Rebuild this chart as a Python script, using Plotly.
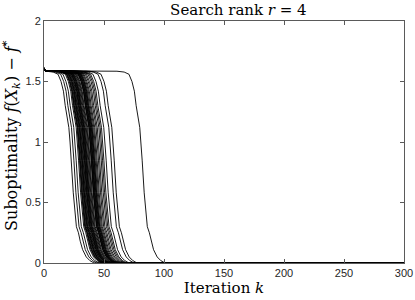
import plotly.graph_objects as go

# Shape of one descent (offsets in iterations
# relative to the iteration where the curve crosses f - f* = 1)
TEMPLATE_DK = [-20, -14, -10, -7.5, -5.5, -4, -1, 0, 1, 2.7, 5.3, 7, 8.5, 10.5, 13.5, 16.5, 20]
TEMPLATE_F = [1.585, 1.578, 1.56, 1.5, 1.42, 1.3, 1.12, 1.0, 0.85, 0.58, 0.30, 0.25, 0.18, 0.11, 0.05, 0.02, 0.0]

# Iteration at which each run crosses f - f* = 1
CROSSINGS = [21.7, 23.9, 25.8, 27.8, 28.6, 29.0, 29.3, 29.9, 30.4, 30.8, 31.0, 31.6,
             32.1, 32.7, 33.0, 33.3, 33.8, 34.2, 34.5, 34.9, 35.5, 36.2, 36.8, 37.4,
             38.3, 38.6, 38.8, 39.3, 39.6, 39.9, 40.4, 40.8, 41.1, 41.7, 42.5, 43.3,
             44.4, 45.4, 46.7, 47.8, 48.9, 50.8, 55.0, 57.5, 80.8]

START_F = [1.612, 1.588]
START_K = [0, 1]
K_MAX = 300

xs, ys = [], []
for c in CROSSINGS:
    xs += START_K + [c + d for d in TEMPLATE_DK] + [K_MAX, None]
    ys += START_F + TEMPLATE_F + [0.0, None]

fig = go.Figure()
fig.add_trace(go.Scatter(x=xs, y=ys, mode="lines",
                         line=dict(color="black", width=0.9),
                         connectgaps=False, hoverinfo="skip", showlegend=False))

serif = "DejaVu Serif, Liberation Serif, serif"
sans = "Liberation Sans, Arial, sans-serif"
axcol = "#5a5a5a"

fig.update_layout(
    width=415, height=300,
    margin=dict(l=44, r=11, t=21, b=37),
    paper_bgcolor="white", plot_bgcolor="white",
    title=dict(text="Search rank <i>r</i> = 4", x=0.54, xanchor="center",
               xref="paper", y=0.967, yanchor="middle", automargin=False,
               font=dict(family=serif, size=15, color="black")),
    xaxis=dict(range=[0, 300], tickvals=[0, 50, 100, 150, 200, 250, 300],
               ticks="inside", ticklen=4, tickcolor=axcol, showline=True,
               linecolor=axcol, linewidth=1, mirror="ticks", showgrid=False,
               zeroline=False, automargin=False,
               tickfont=dict(family=sans, size=11, color="#262626"),
               title=dict(text="Iteration <i>k</i>", standoff=2,
                          font=dict(family=serif, size=15, color="black"))),
    yaxis=dict(range=[0, 2], tickvals=[0, 0.5, 1, 1.5, 2],
               ticktext=["0", "0.5", "1", "1.5", "2"],
               ticks="inside", ticklen=4, tickcolor=axcol, showline=True,
               linecolor=axcol, linewidth=1, mirror="ticks", showgrid=False,
               zeroline=False, automargin=False,
               tickfont=dict(family=sans, size=11, color="#262626")),
    annotations=[dict(
        text="Suboptimality <i>f</i>(<i>X</i><sub><i>k</i></sub>) − <i>f</i><sup>*</sup>",
        xref="paper", yref="paper", x=-0.0905, y=0.527,
        xanchor="center", yanchor="middle", textangle=-90, showarrow=False,
        font=dict(family=serif, size=16, color="black"))],
)

fig.write_html("out.html", config={"displayModeBar": False},
               post_script="document.body.style.margin='0';document.body.style.overflow='hidden';")
